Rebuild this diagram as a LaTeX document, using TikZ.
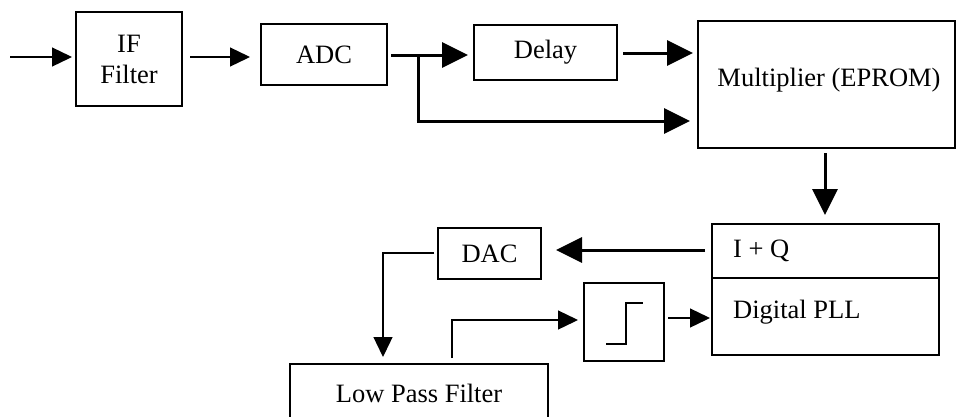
\documentclass[tikz,border=0pt]{standalone}
\usepackage{fontspec}
\setmainfont{Liberation Serif}
\usetikzlibrary{arrows.meta}
\begin{document}
\begin{tikzpicture}[x=1pt,y=-1pt,
  box/.style={draw, line width=1.6pt, inner sep=0pt, align=center,
    font=\fontsize{26.5}{31}\selectfont},
  txt/.style={inner sep=0pt, anchor=west, font=\fontsize{26.5}{31}\selectfont},
  thin/.style={line width=1.3pt, -{Triangle[length=20pt,width=19pt]}},
  thick/.style={line width=3pt, -{Triangle[length=26pt,width=25pt]}},
  plain/.style={line width=1.3pt}]
\clip (0,0) rectangle (957,416);
\fill[white] (0,0) rectangle (957,416);

% blocks of the receiver chain
\node[box, minimum width=106pt, minimum height=94pt] (ifl) at (129,59) {IF\\Filter};
\node[box, minimum width=126pt, minimum height=61pt] (adc) at (324,54.5) {ADC};
\node[box, minimum width=143pt, minimum height=55pt] (dly) at (545.5,52.5) {Delay};
\node[box, minimum width=257pt, minimum height=127pt] (mul) at (826.5,84.5) {};
\node[txt, anchor=center] (multxt) at (829,80) {Multiplier (EPROM)};
\node[box, minimum width=227pt, minimum height=131pt] (pll) at (825.5,289.5) {};
\node[box, minimum width=103pt, minimum height=51pt] (dac) at (489.5,253.5) {DAC};
\node[box, minimum width=80pt, minimum height=78pt] (stp) at (624,322) {};
\node[box, minimum width=258pt, minimum height=58pt] (lpf) at (419,393) {Low Pass Filter};

% two sections of the I+Q / PLL block
\draw[line width=1.3pt] (pll.west |- 0,278) -- (pll.east |- 0,278);
\node[txt] (iq) at (733,251) {I + Q};
\node[txt] (dpll) at (733,312) {Digital PLL};

% limiter characteristic
\draw[plain] (606,344) -- (626,344) -- (626,303) -- (643,303);

% signal paths
\coordinate (in) at (10,57);
\draw[thin] (in) -- (72,57);
\draw[thin] (190,57) -- (250,57);
\coordinate (br) at (418,55);
\draw[thick] (391,55) -- (468,55);
\draw[line width=3pt] (br) -- (418,121);
\draw[thick] (416.5,121) -- (690,121);
\draw[thick] (623,53) -- (693,53);
\draw[thick] (825,153) -- (825,215);
\draw[thick] (705,250) -- (556,250);
\draw[thin] (434,253) -- (383,253) -- (383,357);
\draw[thin] (452,358) -- (452,320) -- (578,320);
\draw[thin] (668,318) -- (710,318);
\end{tikzpicture}
\end{document}
